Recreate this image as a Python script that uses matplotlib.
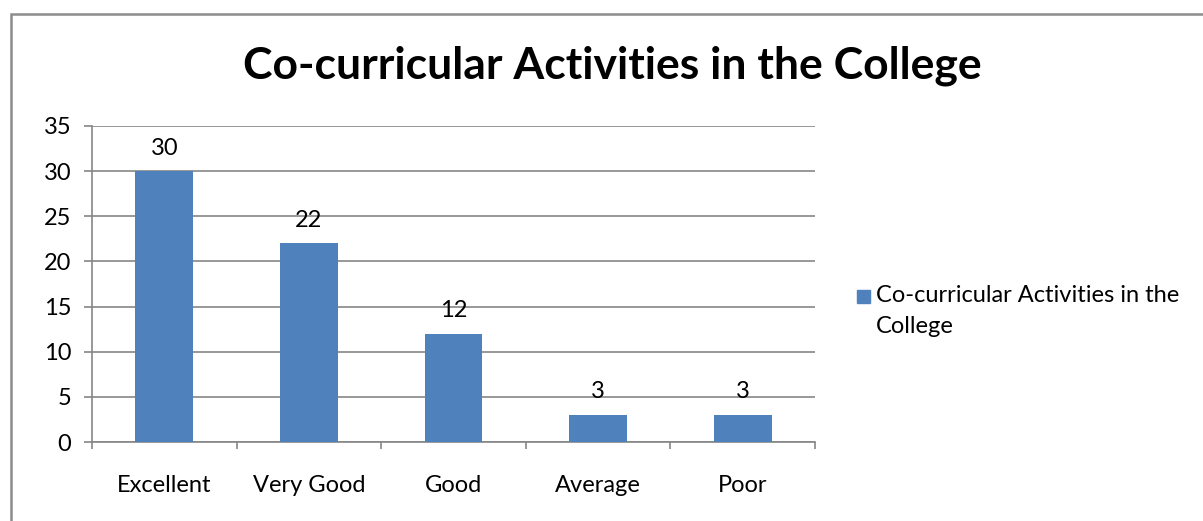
import matplotlib.pyplot as plt
from matplotlib.patches import Rectangle
import numpy as np

plt.rcParams['font.family'] = ['Lato', 'DejaVu Sans']

categories = ['Excellent', 'Very Good', 'Good', 'Average', 'Poor']
values = [30, 22, 12, 3, 3]
series_name = 'Co-curricular Activities in the College'
legend_label = 'Co-curricular Activities in the\nCollege'
yticks = [0, 5, 10, 15, 20, 25, 30, 35]

bar_color = '#4F81BD'
grid_color = '#868686'
fs = 17

fig = plt.figure(figsize=(12.03, 5.21), dpi=100)
ax = fig.add_axes([0.0765, 0.1516, 0.601, 0.6066])

x = np.arange(len(categories))
bars = ax.bar(x, values, width=0.4, color=bar_color, zorder=3)

# value labels above bars
for xi, v in zip(x, values):
    ax.annotate(str(v), (xi, v), xytext=(0, 9), textcoords='offset points',
                ha='center', va='bottom', fontsize=fs)

ax.set_xlim(-0.5, len(categories) - 0.5)
ax.set_ylim(0, 35)
ax.set_yticks(yticks)
ax.tick_params(axis='y', labelsize=fs, length=6, width=1.2, color=grid_color, pad=9)
ax.yaxis.grid(True, color=grid_color, linewidth=1.2, zorder=0)

# category labels centred, tick marks at boundaries
ax.set_xticks(x)
ax.set_xticklabels(categories)
ax.tick_params(axis='x', which='major', length=0, labelsize=fs, pad=24)
ax.set_xticks(np.arange(-0.5, len(categories)), minor=True)
ax.tick_params(axis='x', which='minor', length=5, width=1.2, color=grid_color)

for s in ['top', 'right']:
    ax.spines[s].set_visible(False)
for s in ['left', 'bottom']:
    ax.spines[s].set_color(grid_color)
    ax.spines[s].set_linewidth(1.2)

fig.text(0.509, 0.873, series_name, ha='center', va='center',
         fontsize=32, fontweight='bold')

# legend: swatch aligned with first line, label wraps onto two lines
fig.patches.append(Rectangle((857 / 1203, 1 - 303 / 521), 13 / 1203, 13 / 521,
                             transform=fig.transFigure, color=bars[0].get_facecolor()))
fig.text(876 / 1203, 1 - 285 / 521, legend_label, ha='left', va='top',
         fontsize=fs, linespacing=1.6)

# outer chart border
fig.patches.append(Rectangle((11 / 1203, -0.1), 1.2, 1 - 14 / 521 + 0.1,
                             transform=fig.transFigure, fill=False,
                             edgecolor='#8c8c8c', linewidth=1.8))

fig.savefig('out.png', dpi=100)
